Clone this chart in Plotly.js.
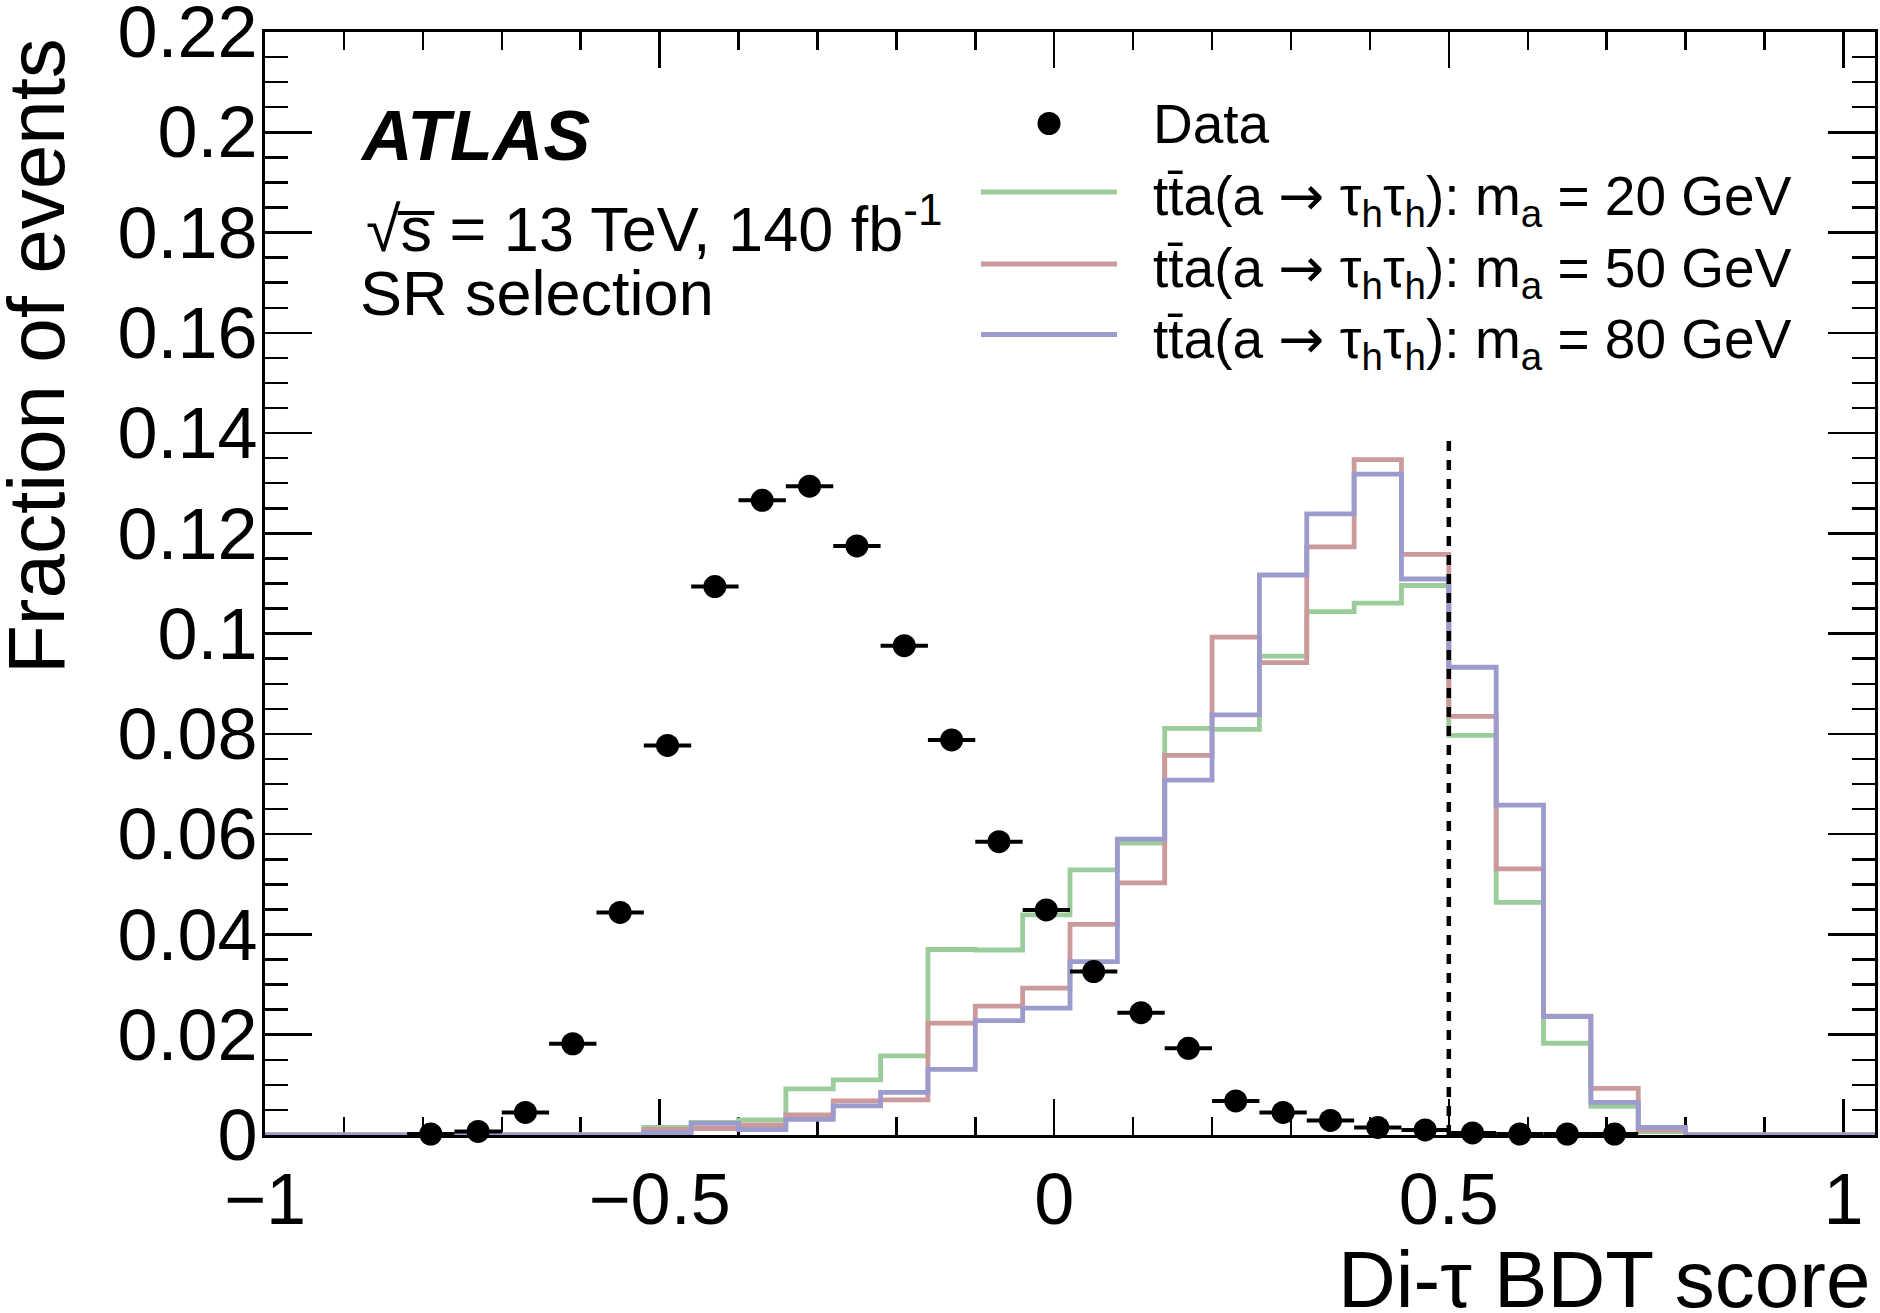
<!DOCTYPE html>
<html>
<head>
<meta charset="utf-8">
<script src="https://cdn.plot.ly/plotly-3.0.1.min.js"></script>
<style>
  html, body { margin: 0; padding: 0; background: #ffffff; }
  #plot { width: 1880px; height: 1313px; }
</style>
</head>
<body>
<div id="plot"></div>
<script>
// Binning of the di-tau BDT score histograms
const binLow = -1.0;
const binWidth = 0.06;
const nBins = 34;

// Signal fractions per bin (34 bins from -1 to 1.04)
const sigMa20 = [0, 0, 0, 0, 0, 0, 0, 0, 0.0015, 0.0025, 0.0030, 0.0092, 0.0110, 0.0158, 0.0370, 0.0369,
  0.0439, 0.0529, 0.0582, 0.0811, 0.0809, 0.0955, 0.1044, 0.1061, 0.1096, 0.0797, 0.0464, 0.0183,
  0.0057, 0.0007, 0, 0, 0, 0];
const sigMa50 = [0, 0, 0, 0, 0, 0, 0, 0, 0.0011, 0.0013, 0.0020, 0.0040, 0.0068, 0.0070, 0.0223, 0.0257,
  0.0293, 0.0420, 0.0503, 0.0757, 0.0993, 0.0942, 0.1173, 0.1347, 0.1158, 0.0835, 0.0531, 0.0237,
  0.0093, 0.0010, 0, 0, 0, 0];
const sigMa80 = [0, 0, 0, 0, 0, 0, 0, 0, 0.0005, 0.0023, 0.0011, 0.0031, 0.0058, 0.0085, 0.0131, 0.0228,
  0.0253, 0.0346, 0.0590, 0.0708, 0.0838, 0.1117, 0.1239, 0.1318, 0.1109, 0.0933, 0.0658, 0.0236,
  0.0065, 0.0015, 0, 0, 0, 0];

// Data points (bin centres and fractions)
const dataX = [-0.79, -0.73, -0.67, -0.61, -0.55, -0.49, -0.43, -0.37, -0.31, -0.25, -0.19, -0.13, -0.07,
  -0.01, 0.05, 0.11, 0.17, 0.23, 0.29, 0.35, 0.41, 0.47, 0.53, 0.59, 0.65, 0.71];
const dataY = [0.0002, 0.0007, 0.0045, 0.0182, 0.0444, 0.0777, 0.1094, 0.1266, 0.1294, 0.1175, 0.0976,
  0.0788, 0.0585, 0.0449, 0.0326, 0.0244, 0.0173, 0.0068, 0.0045, 0.0029, 0.0015, 0.0010, 0.0004,
  0.0002, 0.0002, 0.0002];

const ARROW = '<span style="font-family:DejaVu Sans">→</span>';
const signalNames = [
  'tt̄a(a ' + ARROW + ' τ<sub>h</sub>τ<sub>h</sub>): m<sub>a</sub> = 20 GeV',
  'tt̄a(a ' + ARROW + ' τ<sub>h</sub>τ<sub>h</sub>): m<sub>a</sub> = 50 GeV',
  'tt̄a(a ' + ARROW + ' τ<sub>h</sub>τ<sub>h</sub>): m<sub>a</sub> = 80 GeV'
];
const signalColors = ['#9bcd9b', '#cc9a9a', '#9b9bcd'];

const cutValue = 0.5;
const cutLineTop = 0.139;

const yTickVals = [0, 0.02, 0.04, 0.06, 0.08, 0.1, 0.12, 0.14, 0.16, 0.18, 0.2, 0.22];
const xTickVals = [-1, -0.5, 0, 0.5, 1];

const FONT = 'Liberation Sans, Arial, Helvetica, sans-serif';
const W = 1880, H = 1313;
const M = { l: 265, r: 5, t: 32, b: 178 };

// pixel -> paper helpers for the text blocks
function px(x) { return (x - M.l) / (W - M.l - M.r); }
function py(y) { return (H - M.b - y) / (H - M.t - M.b); }

function binEdges() {
  const e = [];
  for (let i = 0; i <= nBins; i++) e.push(+(binLow + i * binWidth).toFixed(4));
  return e;
}

function stepTrace(values, color) {
  return {
    x: binEdges(),
    y: values.concat([values[values.length - 1]]),
    mode: 'lines',
    line: { shape: 'hv', color: color, width: 4.8 },
    hoverinfo: 'skip',
    showlegend: false,
  };
}

const data = [
  stepTrace(sigMa20, signalColors[0]),
  stepTrace(sigMa50, signalColors[1]),
  stepTrace(sigMa80, signalColors[2]),
  {
    x: dataX,
    y: dataY,
    mode: 'markers',
    marker: { color: '#000000', size: 23, symbol: 'circle' },
    error_x: { type: 'constant', value: binWidth / 2, color: '#000000', thickness: 4, width: 0 },
    cliponaxis: false,
    hoverinfo: 'skip',
    showlegend: false,
  },
];

const axisCommon = {
  showgrid: false,
  zeroline: false,
  showline: true,
  linecolor: '#000000',
  linewidth: 3,
  mirror: 'allticks',
  ticks: 'inside',
  tickcolor: '#000000',
  tickwidth: 2.5,
  tickfont: { family: FONT, size: 72, color: '#000000' },
  ticklabeloverflow: 'allow',
  layer: 'below traces',
};

// legend drawn by hand so that the line samples are as long as in ROOT
const legendRows = [py(123.5), py(192), py(264), py(334.5)];
const shapes = [
  { type: 'line', xref: 'x', yref: 'y', x0: cutValue, x1: cutValue, y0: 0, y1: cutLineTop,
    line: { color: '#000000', width: 4.5, dash: '10px,9px' } },
  { type: 'circle', xref: 'paper', yref: 'paper', x0: px(1037.5), x1: px(1060.5),
    y0: py(135), y1: py(112), fillcolor: '#000000', line: { width: 0 } },
];
signalColors.forEach((c, i) => {
  shapes.push({ type: 'line', xref: 'paper', yref: 'paper', x0: px(981), x1: px(1117),
    y0: legendRows[i + 1], y1: legendRows[i + 1], line: { color: c, width: 5 } });
});

const annotations = [
  { text: '<b><i>ATLAS</i></b>', x: px(358), y: py(136), xanchor: 'left', yanchor: 'middle',
    font: { family: FONT, size: 70, color: '#000000' } },
  { text: '√s̅ = 13 TeV, 140 fb<sup>-1</sup>', x: px(364), y: py(224), xanchor: 'left', yanchor: 'middle',
    font: { family: FONT, size: 63, color: '#000000' } },
  { text: 'SR selection', x: px(358), y: py(293), xanchor: 'left', yanchor: 'middle',
    font: { family: FONT, size: 63, color: '#000000' } },
  { text: 'Data', x: px(1151), y: legendRows[0], xanchor: 'left', yanchor: 'middle',
    font: { family: FONT, size: 55, color: '#000000' } },
  { text: 'Fraction of events', x: -229 / (W - M.l - M.r), y: 1 - 4 / (H - M.t - M.b), textangle: -90,
    xanchor: 'center', yanchor: 'top', font: { family: FONT, size: 80, color: '#000000' } },
  { text: 'Di-τ BDT score', x: px(1872), y: py(1279), xanchor: 'right', yanchor: 'middle',
    font: { family: FONT, size: 80, color: '#000000' } },
];
signalNames.forEach((name, i) => {
  annotations.push({ text: name, x: px(1151), y: legendRows[i + 1], xanchor: 'left', yanchor: 'top',
    yshift: 30, font: { family: FONT, size: 55, color: '#000000' } });
});
annotations.forEach(a => { a.xref = 'paper'; a.yref = 'paper'; a.showarrow = false; });

const layout = {
  width: W,
  height: H,
  margin: M,
  paper_bgcolor: '#ffffff',
  plot_bgcolor: '#ffffff',
  showlegend: false,
  hovermode: false,
  font: { family: FONT, color: '#000000' },
  xaxis: Object.assign({}, axisCommon, {
    range: [binLow, binLow + nBins * binWidth],
    tickmode: 'array',
    tickvals: xTickVals,
    ticklen: 36,
    ticklabelstandoff: 0,
    minor: { dtick: 0.1, tick0: 0, ticks: 'inside', ticklen: 18, tickwidth: 2.5, tickcolor: '#000000', showgrid: false },
  }),
  yaxis: Object.assign({}, axisCommon, {
    range: [0, 0.220001],
    tickmode: 'array',
    tickvals: yTickVals,
    ticklen: 47,
    ticklabelstandoff: -10,
    minor: { dtick: 0.005, tick0: 0, ticks: 'inside', ticklen: 23, tickwidth: 2.5, tickcolor: '#000000', showgrid: false },
  }),
  shapes: shapes,
  annotations: annotations,
};

Plotly.newPlot('plot', data, layout, { displayModeBar: false, staticPlot: true });
</script>
</body>
</html>
